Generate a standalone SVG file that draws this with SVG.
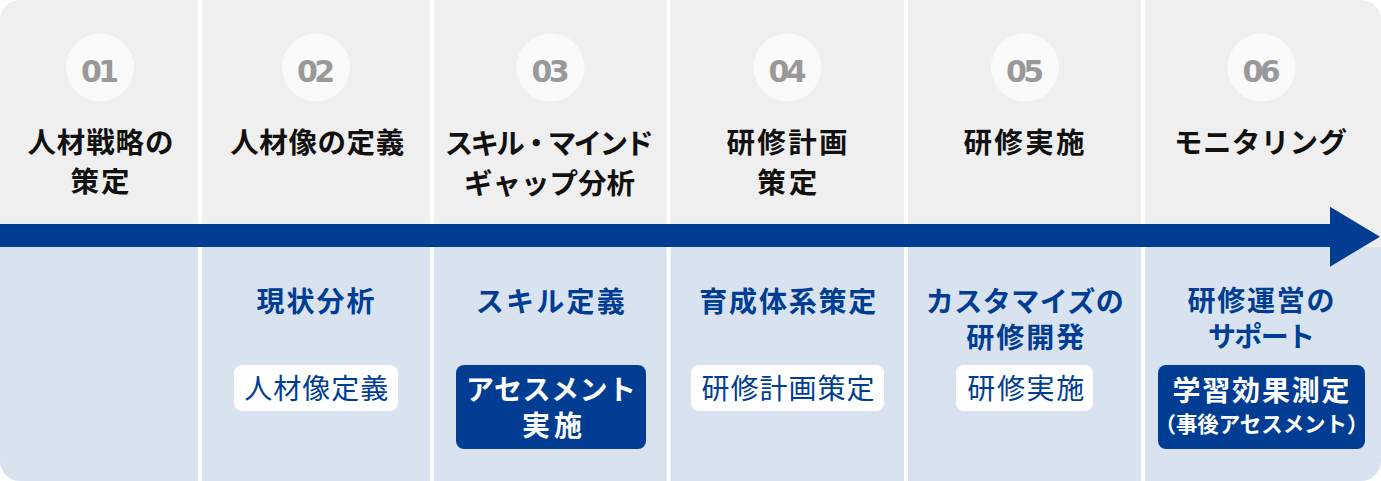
<svg xmlns="http://www.w3.org/2000/svg" width="1381" height="481" viewBox="0 0 1381 481">
<style>
.top{fill:#efefef}
.bot{fill:#d9e3ef}
.circ{fill:#fafafa}
.num{font-family:"DejaVu Sans","Liberation Sans",sans-serif;font-weight:bold;font-size:30px;fill:#999999;text-anchor:middle}
.ttl{font-family:"Noto Sans CJK JP","Noto Sans",sans-serif;font-weight:bold;font-size:28.5px;fill:#111;text-anchor:middle}
.hd{font-family:"Noto Sans CJK JP","Noto Sans",sans-serif;font-weight:bold;font-size:28px;fill:#003d93;text-anchor:middle}
.wbox{fill:#ffffff}
.bbox{fill:#003d93}
.wt{font-family:"Noto Sans CJK JP","Noto Sans",sans-serif;font-weight:normal;font-size:28px;fill:#003d93;text-anchor:middle}
.bt{font-family:"Noto Sans CJK JP","Noto Sans",sans-serif;font-weight:bold;font-size:28px;fill:#ffffff;text-anchor:middle}
.bts{font-family:"Noto Sans CJK JP","Noto Sans",sans-serif;font-weight:bold;font-size:21.5px;fill:#ffffff;text-anchor:middle}
</style>
<defs>
<clipPath id="panel"><rect x="0" y="0" width="1381" height="481" rx="20" ry="20"/></clipPath>
</defs>
<rect x="0" y="0" width="1381" height="481" fill="#ffffff"/>
<g clip-path="url(#panel)">
<g id="col1">
<rect class="top" x="0" y="0" width="198" height="247"/>
<rect class="bot" x="0" y="247" width="198" height="234"/>
<circle class="circ" cx="100" cy="67.5" r="34"/>
<text class="num" x="100" y="82" textLength="38" lengthAdjust="spacing">01</text>
<text class="ttl" x="100.5" y="153" textLength="146" lengthAdjust="spacing">人材戦略の</text>
<text class="ttl" x="100" y="192" textLength="59" lengthAdjust="spacing">策定</text>
</g>
<g id="col2">
<rect class="top" x="202" y="0" width="228" height="247"/>
<rect class="bot" x="202" y="247" width="228" height="234"/>
<circle class="circ" cx="316" cy="67.5" r="34"/>
<text class="num" x="316" y="82" textLength="38" lengthAdjust="spacing">02</text>
<text class="ttl" x="317.2" y="153" textLength="174" lengthAdjust="spacing">人材像の定義</text>
<text class="hd" x="315.5" y="312" textLength="118" lengthAdjust="spacing">現状分析</text>
<rect class="wbox" x="234" y="365" width="164" height="46" rx="8"/>
<text class="wt" x="316.2" y="399" textLength="144" lengthAdjust="spacing">人材像定義</text>
</g>
<g id="col3">
<rect class="top" x="434" y="0" width="232.5" height="247"/>
<rect class="bot" x="434" y="247" width="232.5" height="234"/>
<circle class="circ" cx="550.5" cy="67.5" r="34"/>
<text class="num" x="550.5" y="82" textLength="38" lengthAdjust="spacing">03</text>
<text class="ttl" x="549.2" y="153.5" textLength="209" lengthAdjust="spacing">スキル・マインド</text>
<text class="ttl" x="549.5" y="193.5" textLength="171" lengthAdjust="spacing">ギャップ分析</text>
<text class="hd" x="550.3" y="312" textLength="149" lengthAdjust="spacing">スキル定義</text>
<rect class="bbox" x="456" y="365" width="190" height="84" rx="8"/>
<text class="bt" x="551" y="400" textLength="170" lengthAdjust="spacing">アセスメント</text>
<text class="bt" x="552" y="435.5" textLength="60" lengthAdjust="spacing">実施</text>
</g>
<g id="col4">
<rect class="top" x="670.5" y="0" width="233.5" height="247"/>
<rect class="bot" x="670.5" y="247" width="233.5" height="234"/>
<circle class="circ" cx="787.5" cy="67.5" r="34"/>
<text class="num" x="787.5" y="82" textLength="38" lengthAdjust="spacing">04</text>
<text class="ttl" x="787" y="153" textLength="121" lengthAdjust="spacing">研修計画</text>
<text class="ttl" x="787.3" y="193" textLength="60" lengthAdjust="spacing">策定</text>
<text class="hd" x="787.8" y="312" textLength="177" lengthAdjust="spacing">育成体系策定</text>
<rect class="wbox" x="691" y="365" width="193" height="46" rx="8"/>
<text class="wt" x="788" y="399" textLength="173" lengthAdjust="spacing">研修計画策定</text>
</g>
<g id="col5">
<rect class="top" x="908" y="0" width="233" height="247"/>
<rect class="bot" x="908" y="247" width="233" height="234"/>
<circle class="circ" cx="1025" cy="67.5" r="34"/>
<text class="num" x="1025" y="82" textLength="38" lengthAdjust="spacing">05</text>
<text class="ttl" x="1024" y="153" textLength="121" lengthAdjust="spacing">研修実施</text>
<text class="hd" x="1024.8" y="311.5" textLength="198" lengthAdjust="spacing">カスタマイズの</text>
<text class="hd" x="1025.3" y="347.5" textLength="118" lengthAdjust="spacing">研修開発</text>
<rect class="wbox" x="956" y="365" width="137" height="46" rx="8"/>
<text class="wt" x="1025.8" y="399" textLength="117" lengthAdjust="spacing">研修実施</text>
</g>
<g id="col6">
<rect class="top" x="1145" y="0" width="236" height="247"/>
<rect class="bot" x="1145" y="247" width="236" height="234"/>
<circle class="circ" cx="1261.5" cy="67.5" r="34"/>
<text class="num" x="1261.5" y="82" textLength="38" lengthAdjust="spacing">06</text>
<text class="ttl" x="1260.5" y="153" textLength="173" lengthAdjust="spacing">モニタリング</text>
<text class="hd" x="1261" y="311" textLength="147" lengthAdjust="spacing">研修運営の</text>
<text class="hd" x="1261.5" y="347" textLength="107" lengthAdjust="spacing">サポート</text>
<rect class="bbox" x="1158" y="365" width="207" height="84" rx="8"/>
<text class="bt" x="1261" y="400.5" textLength="177" lengthAdjust="spacing">学習効果測定</text>
<text class="bts" x="1261.5" y="432" textLength="214" lengthAdjust="spacing">（事後アセスメント）</text>
</g>
<g id="connectors">
<path d="M0 224 H1330 V206.7 L1380 236.7 L1330 266.7 V247 H0 Z" fill="#003d93"/>
</g>
</g>
</svg>
